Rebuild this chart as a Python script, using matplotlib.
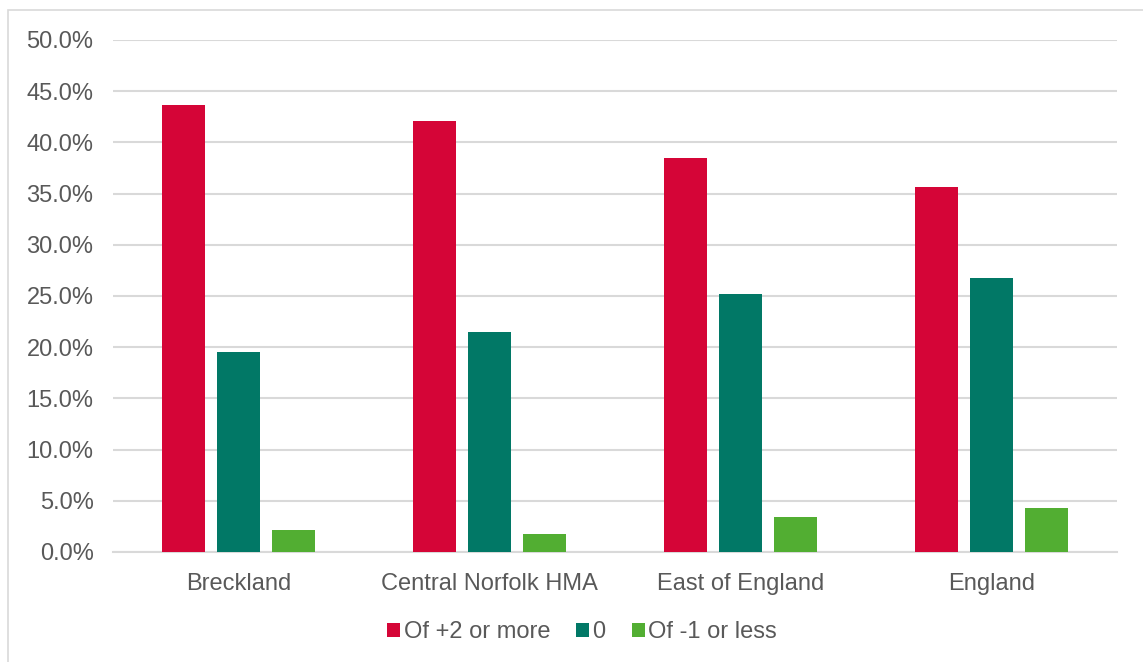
import numpy as np
import matplotlib.pyplot as plt
from matplotlib.patches import Rectangle

# Chart data
categories = ["Breckland", "Central Norfolk HMA", "East of England", "England"]
series_names = ["Of +2 or more", "0", "Of -1 or less"]
plus_two = [43.7, 42.1, 38.5, 35.6]
zero = [19.5, 21.5, 25.2, 26.8]
minus_one = [2.1, 1.8, 3.4, 4.3]
y_ticks = [0, 5, 10, 15, 20, 25, 30, 35, 40, 45, 50]

colors = ["#D50537", "#017866", "#52AE32"]
text_color = "#595959"
plt.rcParams['font.family'] = ['Liberation Sans', 'DejaVu Sans']

fig = plt.figure(figsize=(11.43, 6.62), dpi=100)
ax = fig.add_axes([113 / 1143, 110 / 662, 1004 / 1143, 512 / 662])

# outer chart border (left and top visible)
fig.patches.append(Rectangle((8 / 1143, -0.01), 1.1, (652 / 662) + 0.01,
                             transform=fig.transFigure, fill=False,
                             edgecolor="#D9D9D9", linewidth=1.2))

x = np.arange(len(categories))
width = 0.175
step = 0.219
for i, (vals, name) in enumerate(zip([plus_two, zero, minus_one], series_names)):
    ax.bar(x + (i - 1) * step, vals, width, color=colors[i], label=name, zorder=3)

ax.set_xlim(-0.5, len(categories) - 0.5)
ax.set_ylim(0, 50)
ax.set_yticks(y_ticks)
ax.set_yticklabels([f"{t:.1f}%" for t in y_ticks])
ax.set_xticks(x)
ax.set_xticklabels(categories)
ax.tick_params(axis="both", length=0, labelsize=17, colors=text_color)
ax.tick_params(axis="y", pad=14)
ax.tick_params(axis="x", pad=15)
ax.yaxis.grid(True, color="#D9D9D9", linewidth=1.5, zorder=0)
for s in ["top", "right", "left"]:
    ax.spines[s].set_visible(False)
ax.spines["bottom"].set_color("#D9D9D9")
ax.spines["bottom"].set_linewidth(1.5)

leg = ax.legend(loc="center", bbox_to_anchor=(582 / 1143, 1 - 632 / 662),
                bbox_transform=fig.transFigure, ncol=3, frameon=False,
                fontsize=17, handlelength=0.55, handleheight=0.55,
                handletextpad=0.15, columnspacing=1.1)
for t in leg.get_texts():
    t.set_color(text_color)

fig.savefig("out.png", dpi=100)
